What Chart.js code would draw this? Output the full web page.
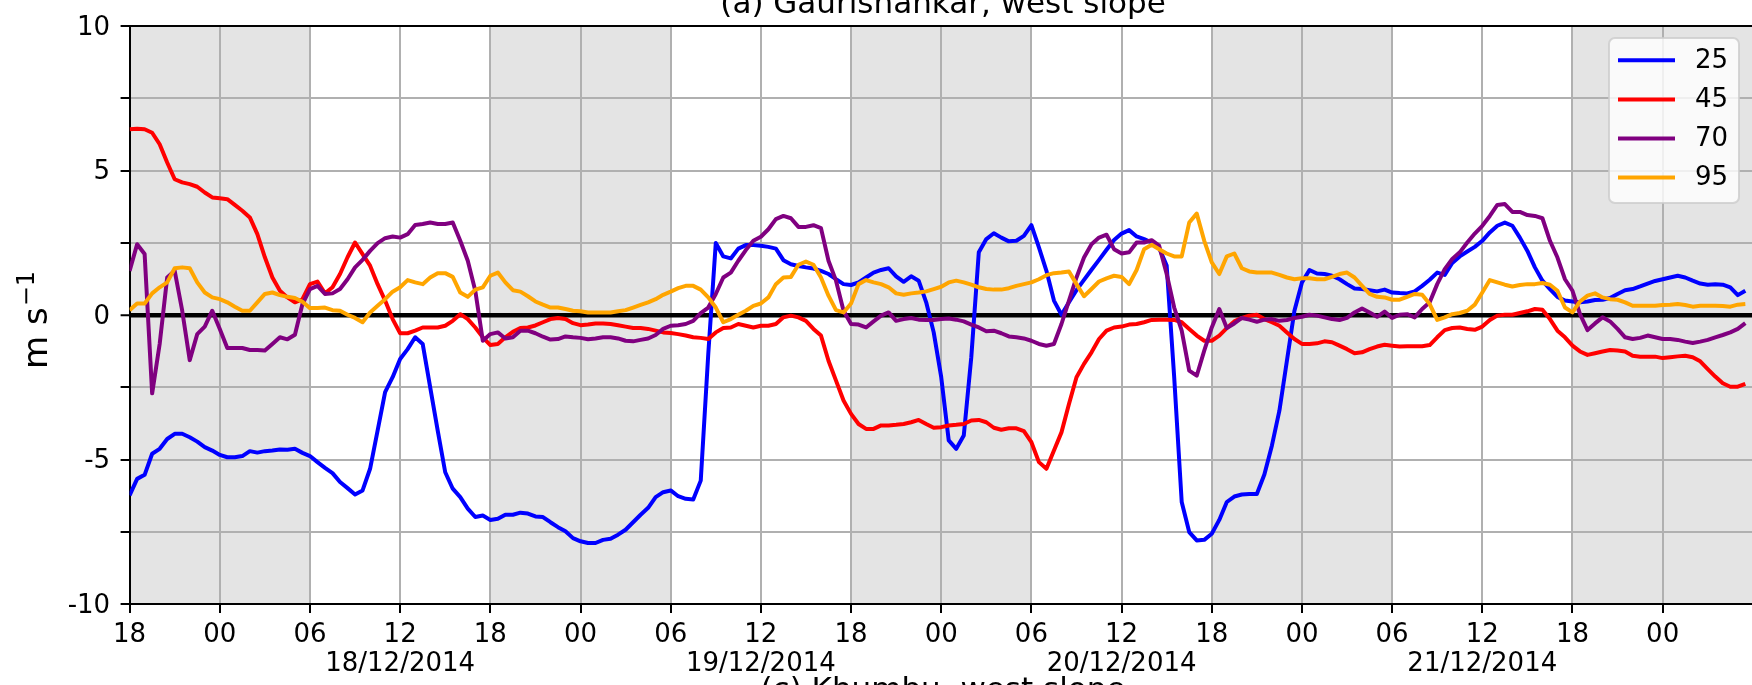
<!DOCTYPE html>
<html><head><meta charset="utf-8">
<script src="https://cdn.jsdelivr.net/npm/chart.js@4.4.1/dist/chart.umd.min.js"></script>
<style>
html,body{margin:0;padding:0;overflow:hidden;background:#fff;width:1752px;height:685px}
canvas{position:absolute;left:0;top:0}
</style></head>
<body><canvas id="c" width="1800" height="685"></canvas>
<script>
// ---- data (half-hourly, hours since 17/12/2014 18:00) ----
const seriesLabels = ['25', '45', '70', '95'];
const seriesColors = ['#0000ff', '#ff0000', '#800080', '#ffa500'];

const blue25 = [
 -6.24,-5.67,-5.53,-4.8,-4.63,-4.29,-4.11,-4.11,-4.23,-4.38,-4.57,-4.69,-4.84,-4.92,-4.92,-4.88,-4.71,-4.76,-4.71,-4.69,
 -4.65,-4.66,-4.63,-4.77,-4.88,-5.09,-5.29,-5.47,-5.78,-5.99,-6.21,-6.07,-5.32,-4.0,-2.67,-2.15,-1.52,-1.18,-0.77,-1.0,
 -2.5,-4.0,-5.44,-6.01,-6.3,-6.7,-6.99,-6.94,-7.09,-7.05,-6.91,-6.91,-6.84,-6.87,
 -6.97,-6.99,-7.17,-7.34,-7.48,-7.72,-7.83,-7.89,-7.89,-7.78,-7.74,-7.6,-7.43,-7.17,-6.91,-6.67,-6.3,-6.13,-6.07,-6.27,
 -6.36,-6.38,-5.73,-1.35,2.49,2.03,1.96,2.3,2.42,2.42,2.4,2.36,2.3,1.9,1.76,1.7,1.65,1.61,1.53,1.42,
 1.24,1.07,1.04,1.13,1.3,1.47,1.56,1.62,1.34,1.15,1.34,1.19,0.44,-0.6,
 -2.15,-4.34,-4.63,-4.17,-1.46,2.17,2.63,2.83,2.68,2.55,2.57,2.74,3.11,2.34,1.53,0.5,0.01,0.44,0.86,1.22,
 1.57,1.91,2.26,2.6,2.82,2.94,2.72,2.63,2.51,2.32,1.71,-2.15,-6.47,-7.51,-7.8,-7.78,-7.57,-7.09,-6.47,-6.28,
 -6.21,-6.19,-6.19,-5.52,-4.52,-3.31,-1.58,0.15,1.13,1.56,1.44,1.42,1.36,1.24,
 1.07,0.92,0.9,0.86,0.82,0.88,0.78,0.76,0.75,0.82,1.01,1.22,1.47,1.39,1.8,2.03,2.2,2.36,2.57,2.86,
 3.09,3.2,3.09,2.68,2.22,1.65,1.19,0.9,0.63,0.5,0.47,0.44,0.47,0.52,0.53,0.59,0.73,0.86,0.9,0.99,
 1.09,1.18,1.24,1.3,1.36,1.3,1.19,1.09,1.05,1.07,1.05,0.96,0.69,0.84
];
const red45 = [
 6.43,6.45,6.43,6.31,5.91,5.28,4.7,4.59,4.53,4.44,4.24,4.07,4.04,4.01,3.81,3.61,3.38,2.8,2.0,1.3,
 0.84,0.61,0.44,0.55,1.07,1.16,0.75,0.96,1.42,2.0,2.51,2.11,1.71,1.07,0.5,-0.14,-0.63,-0.63,-0.54,-0.43,
 -0.43,-0.43,-0.37,-0.2,0.03,-0.14,-0.43,-0.77,-1.04,-1.0,-0.77,-0.58,-0.45,-0.43,
 -0.36,-0.25,-0.14,-0.1,-0.14,-0.28,-0.35,-0.33,-0.29,-0.29,-0.31,-0.35,-0.4,-0.45,-0.45,-0.48,-0.54,-0.6,-0.62,-0.66,
 -0.71,-0.77,-0.79,-0.83,-0.6,-0.45,-0.43,-0.31,-0.37,-0.43,-0.37,-0.37,-0.31,-0.08,-0.02,-0.08,-0.2,-0.48,-0.71,-1.58,
 -2.27,-2.96,-3.42,-3.77,-3.94,-3.94,-3.82,-3.82,-3.8,-3.77,-3.71,-3.63,-3.77,-3.9,
 -3.88,-3.82,-3.8,-3.77,-3.65,-3.63,-3.71,-3.9,-3.97,-3.92,-3.92,-4.02,-4.4,-5.09,-5.32,-4.69,-4.06,-3.08,-2.15,-1.69,
 -1.29,-0.83,-0.54,-0.43,-0.4,-0.33,-0.31,-0.25,-0.17,-0.16,-0.16,-0.17,-0.25,-0.48,-0.71,-0.89,-0.89,-0.71,-0.45,-0.22,
 -0.1,-0.02,0.01,-0.14,-0.25,-0.37,-0.6,-0.83,-1.0,-1.0,-0.98,-0.91,-0.94,-1.06,
 -1.18,-1.32,-1.29,-1.18,-1.09,-1.03,-1.06,-1.09,-1.08,-1.08,-1.08,-1.04,-0.77,-0.52,-0.45,-0.43,-0.48,-0.51,-0.4,-0.17,
 -0.02,0.01,0.01,0.07,0.13,0.21,0.18,-0.14,-0.54,-0.77,-1.06,-1.26,-1.38,-1.32,-1.26,-1.21,-1.23,-1.26,-1.41,-1.44,
 -1.44,-1.44,-1.49,-1.46,-1.43,-1.41,-1.46,-1.6,-1.87,-2.13,-2.36,-2.48,-2.48,-2.38
];
const purple70 = [
 1.53,2.45,2.11,-2.71,-1.0,1.3,1.53,0.15,-1.56,-0.66,-0.4,0.15,-0.48,-1.14,-1.14,-1.14,-1.21,-1.21,-1.23,-1.0,
 -0.77,-0.84,-0.68,0.38,0.9,1.01,0.73,0.75,0.9,1.24,1.65,1.91,2.22,2.49,2.66,2.72,2.68,2.8,3.12,3.15,
 3.2,3.15,3.15,3.2,2.57,1.88,0.84,-0.89,-0.66,-0.6,-0.81,-0.77,-0.54,-0.54,
 -0.63,-0.75,-0.85,-0.83,-0.74,-0.77,-0.79,-0.84,-0.81,-0.77,-0.77,-0.81,-0.89,-0.91,-0.86,-0.81,-0.69,-0.48,-0.37,-0.35,
 -0.31,-0.2,0.07,0.26,0.73,1.3,1.47,1.88,2.25,2.57,2.71,2.97,3.32,3.43,3.35,3.05,3.05,3.11,3.01,1.88,
 1.19,0.15,-0.31,-0.33,-0.43,-0.22,-0.02,0.09,-0.2,-0.14,-0.1,-0.16,-0.17,-0.17,
 -0.14,-0.12,-0.16,-0.22,-0.33,-0.43,-0.56,-0.54,-0.63,-0.74,-0.77,-0.81,-0.89,-1.0,-1.06,-1.0,-0.31,0.5,1.3,1.99,
 2.45,2.68,2.78,2.28,2.13,2.17,2.51,2.51,2.59,2.4,1.42,0.26,-0.54,-1.92,-2.1,-1.23,-0.43,0.21,-0.45,-0.29,
 -0.1,-0.16,-0.23,-0.16,-0.14,-0.2,-0.17,-0.1,-0.06,0.01,-0.02,-0.08,-0.14,-0.17,
 -0.1,0.09,0.23,0.09,-0.06,0.12,-0.1,0.01,0.03,-0.08,0.21,0.44,1.07,1.59,1.94,2.17,2.51,2.82,3.09,3.43,
 3.81,3.84,3.57,3.57,3.46,3.43,3.35,2.57,1.99,1.24,0.84,0.03,-0.52,-0.29,-0.08,-0.22,-0.48,-0.77,-0.83,-0.79,
 -0.71,-0.77,-0.83,-0.83,-0.86,-0.92,-0.97,-0.92,-0.86,-0.77,-0.69,-0.6,-0.48,-0.28
];
const orange95 = [
 0.17,0.4,0.4,0.75,0.96,1.13,1.62,1.65,1.62,1.13,0.78,0.61,0.55,0.44,0.29,0.15,0.15,0.44,0.73,0.78,
 0.69,0.63,0.59,0.46,0.24,0.24,0.26,0.17,0.15,0.01,-0.1,-0.25,0.09,0.32,0.55,0.81,0.96,1.21,1.13,1.07,
 1.3,1.45,1.45,1.32,0.78,0.63,0.88,0.96,1.36,1.47,1.13,0.86,0.81,0.65,
 0.47,0.36,0.26,0.26,0.21,0.15,0.13,0.09,0.09,0.09,0.09,0.13,0.17,0.26,0.35,0.44,0.55,0.7,0.81,0.93,
 1.01,1.01,0.88,0.61,0.26,-0.25,-0.14,0.01,0.15,0.32,0.4,0.61,1.07,1.3,1.32,1.74,1.85,1.74,1.3,0.67,
 0.17,0.09,0.4,1.07,1.21,1.13,1.07,0.96,0.75,0.7,0.75,0.78,0.82,0.9,
 0.98,1.13,1.19,1.13,1.05,0.96,0.9,0.88,0.88,0.93,1.01,1.07,1.13,1.24,1.38,1.45,1.47,1.51,1.07,0.65,
 0.9,1.16,1.27,1.36,1.32,1.07,1.56,2.28,2.43,2.28,2.13,2.03,2.03,3.2,3.51,2.57,1.82,1.42,2.03,2.13,
 1.62,1.51,1.47,1.47,1.47,1.39,1.3,1.24,1.27,1.27,1.24,1.24,1.32,1.42,
 1.47,1.3,1.01,0.73,0.63,0.61,0.53,0.53,0.63,0.73,0.7,0.38,-0.17,-0.08,0.03,0.07,0.15,0.36,0.78,1.21,
 1.13,1.05,0.99,1.04,1.07,1.07,1.11,1.05,0.84,0.26,0.09,0.47,0.67,0.75,0.61,0.55,0.53,0.44,0.32,0.32,
 0.32,0.32,0.35,0.36,0.38,0.35,0.29,0.32,0.32,0.32,0.31,0.29,0.36,0.38
];
const seriesValues = [blue25, red45, purple70, orange95];

const stepHours = 0.5;
const timeHours = blue25.map((_, i) => i * stepHours);
const startHourOfDay = 18;
const xTickHours = [0,6,12,18,24,30,36,42,48,54,60,66,72,78,84,90,96,102];
const dateLabels = {18: '18/12/2014', 42: '19/12/2014', 66: '20/12/2014', 90: '21/12/2014'};
const yTickValues = [-10,-7.5,-5,-2.5,0,2.5,5,7.5,10];
const nightSpans = [[0,12],[24,36],[48,60],[72,84],[96,120]];
const titleText = '(a) Gaurishankar, west slope';
const nextTitleText = '(c) Khumbu, west slope';

// ---- layout constants ----
const FONT = "'DejaVu Sans'";
const plotLeft = 129.6, plotRight = 1790, pxPerHour = 15.03;
const xMax = (plotRight - plotLeft) / pxPerHour;

const decor = {
  id: 'decor',
  beforeDraw(chart) {
    const {ctx, chartArea: a, scales: {x}} = chart;
    ctx.save();
    ctx.fillStyle = '#fff';
    ctx.fillRect(0, 0, chart.width, chart.height);
    ctx.fillStyle = '#e4e4e4';
    nightSpans.forEach(([s, e]) => {
      const x0 = Math.max(a.left, x.getPixelForValue(s));
      const x1 = Math.min(a.right, x.getPixelForValue(e));
      if (x1 > x0) ctx.fillRect(x0, a.top, x1 - x0, a.bottom - a.top);
    });
    ctx.restore();
  },
  afterDraw(chart) {
    const {ctx, chartArea: a} = chart;
    ctx.save();
    // top spine
    ctx.strokeStyle = '#000'; ctx.lineWidth = 2;
    ctx.beginPath(); ctx.moveTo(a.left - 1, a.top); ctx.lineTo(a.right, a.top); ctx.stroke();
    // titles (clipped by the page edges)
    ctx.fillStyle = '#000';
    ctx.font = '31px ' + FONT;
    ctx.textAlign = 'center'; ctx.textBaseline = 'alphabetic';
    ctx.fillText(titleText, 943, 13);
    ctx.fillText(nextTitleText, 943, 699);
    // y-axis label m s^-1
    ctx.save();
    ctx.translate(46.5, 369);
    ctx.rotate(-Math.PI / 2);
    ctx.textAlign = 'left';
    ctx.font = '34px ' + FONT;
    ctx.fillText('m s', 0, 0);
    const w = ctx.measureText('m s').width;
    ctx.font = '24px ' + FONT;
    ctx.fillText('\u22121', w + 1, -13);
    ctx.restore();
    // legend
    const bx = 1609, by = 38, bw = 130, bh = 165, r = 6;
    ctx.beginPath();
    ctx.moveTo(bx + r, by);
    ctx.arcTo(bx + bw, by, bx + bw, by + bh, r);
    ctx.arcTo(bx + bw, by + bh, bx, by + bh, r);
    ctx.arcTo(bx, by + bh, bx, by, r);
    ctx.arcTo(bx, by, bx + bw, by, r);
    ctx.closePath();
    ctx.fillStyle = 'rgba(255,255,255,0.8)';
    ctx.fill();
    ctx.strokeStyle = 'rgba(204,204,204,0.8)'; ctx.lineWidth = 2;
    ctx.stroke();
    ctx.font = '26px ' + FONT;
    ctx.textAlign = 'left'; ctx.textBaseline = 'middle';
    seriesLabels.forEach((lab, i) => {
      const yy = 60.3 + i * 39.1;
      ctx.strokeStyle = seriesColors[i]; ctx.lineWidth = 4;
      ctx.beginPath(); ctx.moveTo(1618, yy); ctx.lineTo(1675, yy); ctx.stroke();
      ctx.fillStyle = '#000';
      ctx.fillText(lab, 1695, yy + 1);
    });
    ctx.restore();
  }
};

const datasets = seriesValues.map((vals, i) => ({
  label: seriesLabels[i],
  data: vals.map((v, k) => ({x: timeHours[k], y: v})),
  borderColor: seriesColors[i],
  backgroundColor: seriesColors[i],
  borderWidth: 4,
  pointRadius: 0,
  tension: 0,
  fill: false,
  borderJoinStyle: 'round',
  order: seriesValues.length - i
}));

new Chart(document.getElementById('c'), {
  type: 'line',
  data: {datasets},
  plugins: [decor],
  options: {
    responsive: false,
    animation: false,
    devicePixelRatio: 1,
    layout: {padding: {top: 25, right: 1800 - plotRight, bottom: 0, left: 0}},
    plugins: {legend: {display: false}, tooltip: {enabled: false}},
    scales: {
      x: {
        type: 'linear',
        min: 0,
        max: xMax,
        afterFit(s) { s.height = 81; },
        afterBuildTicks(s) { s.ticks = xTickHours.map(v => ({value: v})); },
        grid: {color: '#b0b0b0', lineWidth: 2, drawTicks: true, tickLength: 9, tickColor: '#000', tickWidth: 2},
        border: {color: '#000', width: 2},
        ticks: {
          autoSkip: false, maxRotation: 0, minRotation: 0, padding: 7.5, color: '#000',
          font: {family: FONT, size: 26, lineHeight: 29 / 26},
          callback(v) {
            const hh = String((startHourOfDay + v) % 24).padStart(2, '0');
            return dateLabels[v] ? [hh, dateLabels[v]] : hh;
          }
        }
      },
      y: {
        min: -10,
        max: 10,
        afterFit(s) { s.width = plotLeft; },
        afterBuildTicks(s) { s.ticks = yTickValues.map(v => ({value: v})); },
        grid: {
          color: c => (c.tick && c.tick.value === 0) ? '#000' : '#b0b0b0',
          lineWidth: c => (c.tick && c.tick.value === 0) ? 4.5 : 2,
          drawTicks: true, tickLength: 9, tickColor: '#000', tickWidth: 2
        },
        border: {color: '#000', width: 2},
        ticks: {
          autoSkip: false, padding: 10.5, color: '#000', labelOffset: 2,
          font: {family: FONT, size: 26},
          callback(v) { return (v % 5 === 0) ? String(v) : ''; }
        }
      }
    }
  }
});
</script>
</body></html>
